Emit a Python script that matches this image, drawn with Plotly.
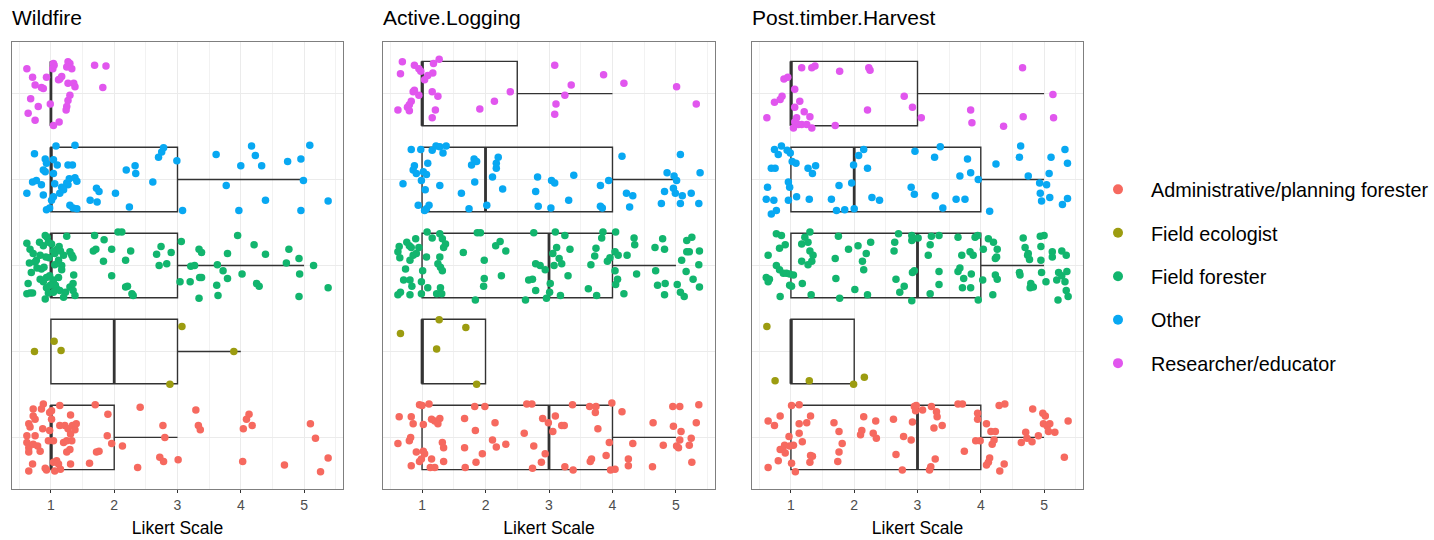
import plotly.graph_objects as go

# ---------------- data ----------------
CATEGORIES = ["Administrative/planning forester", "Field ecologist", "Field forester",
              "Other", "Researcher/educator"]
CAT_POS = [1, 2, 3, 4, 5]
COLORS = ["#F6695F", "#9C9C10", "#12B56E", "#08A8F2", "#E156EE"]
PANELS = ["Wildfire", "Active.Logging", "Post.timber.Harvest"]
X_TICKS = [1, 2, 3, 4, 5]
X_TITLE = "Likert Scale"

# box statistics (order of CATEGORIES)
WF_Q1 = [1, 1, 1, 1, 1]
WF_MED = [1, 2, 1, 1, 1]
WF_Q3 = [2, 3, 3, 3, 1]
WF_HI = [3, 4, 5, 5, 1]

AL_Q1 = [1, 1, 1, 1, 1]
AL_MED = [3, 1, 3, 2, 1]
AL_Q3 = [4, 2, 4, 4, 2.5]
AL_HI = [5, 2, 5, 5, 4]

PH_Q1 = [1, 1, 1, 1, 1]
PH_MED = [3, 1, 3, 2, 1]
PH_Q3 = [4, 2, 4, 4, 3]
PH_HI = [5, 2, 5, 5, 5]

# jittered responses: (x, vertical jitter)
WF_ADMIN = [(0.72,0.33),(0.88,0.39),(0.85,0.33),(0.72,0.25),(0.75,0.21),(0.98,0.29),(1.01,0.31),(1.14,0.37),
            (1.31,0.26),(0.65,0.16),(0.67,0.12),(0.87,0.10),(0.98,0.08),(1.14,0.14),(1.22,0.14),(1.27,0.10),
            (1.34,0.14),(1.38,0.09),(1.31,0.04),(0.62,0.02),(0.75,0.02),(0.96,-0.04),(1.04,-0.04),(1.20,-0.06),
            (1.25,-0.04),(1.33,-0.04),(0.62,-0.06),(0.65,-0.12),(0.79,-0.10),(0.72,-0.08),(0.65,-0.17),(1.25,-0.17),
            (1.30,-0.14),(1.09,-0.27),(1.12,-0.31),(1.04,-0.29),(1.15,-0.37),(1.06,-0.39),(0.93,-0.38),(0.91,-0.36),
            (0.65,-0.39),(0.71,-0.31),(1.31,-0.31),(1.61,-0.30),(1.72,-0.17),(1.76,-0.16),(1.70,0.38),(1.90,0.27),
            (1.89,0.02),(1.96,-0.07),(2.13,-0.10),(2.37,-0.35),(2.41,0.35),(2.77,0.14),(2.80,0.00),(2.72,-0.23),
            (2.78,-0.28),(3.01,-0.26),(3.29,0.32),(3.33,0.14),(3.36,0.09),(4.13,0.27),(4.09,0.21),(4.18,0.14),
            (4.04,0.10),(4.03,-0.28),(4.69,-0.32),(5.10,0.16),(5.18,-0.01),(5.38,-0.24),(5.26,-0.40),
            (1.01,0.21),(1.40,0.16),(0.83,-0.16)]
WF_ECOL = [(0.74,0.00),(1.05,0.12),(1.16,0.01),(3.07,0.29),(2.88,-0.38),(3.89,0.00)]
WF_FIELD = [(0.62,0.26),(0.67,0.19),(0.72,0.14),(0.69,-0.08),(0.64,-0.21),(0.62,-0.33),(0.71,-0.32),(0.75,0.04),
            (0.77,0.06),(0.83,0.12),(0.82,0.27),(0.88,0.23),(0.91,0.35),(0.94,0.33),(0.96,0.27),(1.01,0.25),
            (1.04,0.17),(1.06,0.14),(1.10,0.19),(1.13,0.22),(1.15,0.17),(1.20,0.12),(1.17,0.00),(1.12,0.06),
            (1.06,0.01),(0.97,0.09),(0.92,0.10),(0.85,-0.04),(0.78,-0.03),(0.89,-0.02),(0.83,-0.16),(0.88,-0.19),
            (0.93,-0.14),(0.98,-0.12),(1.04,-0.17),(1.07,-0.23),(1.12,-0.14),(1.09,-0.27),(0.99,-0.23),(0.93,-0.26),
            (0.96,-0.32),(0.91,-0.39),(1.04,-0.31),(1.14,-0.29),(1.20,-0.37),(1.23,-0.31),(1.30,-0.25),(1.35,-0.29),
            (1.38,-0.35),(1.35,-0.21),(1.36,-0.11),(1.33,0.12),(1.35,0.09),(1.25,0.34),(1.30,0.16),(0.67,-0.32),
            (1.17,-0.05),(0.66,0.03),
            (1.69,0.35),(1.84,0.30),(2.06,0.39),(2.12,0.39),(1.71,0.19),(1.67,0.17),(1.96,0.19),(1.83,0.05),
            (2.18,0.06),(2.26,0.17),(1.96,-0.12),(2.18,-0.25),(2.21,-0.24),(2.28,-0.33),(2.30,-0.35),(2.67,0.13),
            (2.74,0.22),(2.90,0.15),(2.71,0.00),(2.83,0.02),(3.06,0.28),(3.04,-0.19),(3.21,-0.01),(3.27,0.00),
            (3.20,-0.19),(3.34,0.19),(3.38,0.15),(3.35,-0.14),(3.38,-0.14),(3.34,-0.38),(3.62,-0.23),(3.64,-0.35),
            (3.63,0.01),(3.72,-0.06),(3.79,0.14),(3.79,-0.15),(3.95,0.35),(4.02,-0.10),(4.21,0.24),(4.39,0.13),
            (4.25,-0.21),(4.29,-0.24),(4.72,0.03),(4.76,0.19),(4.92,0.08),(4.93,-0.10),(4.92,-0.36),(5.15,0.00),
            (5.38,-0.26)]
WF_OTHER = [(1.08,0.39),(1.38,0.40),(0.74,0.30),(0.91,0.24),(0.93,0.19),(1.04,0.23),(1.10,0.17),(1.27,0.17),
            (1.34,0.17),(0.88,0.11),(0.91,0.09),(1.04,0.07),(1.29,0.01),(1.38,0.02),(1.41,-0.02),(1.25,-0.04),
            (1.27,-0.06),(1.17,-0.09),(1.20,-0.12),(1.14,-0.16),(1.06,-0.05),(0.71,-0.03),(0.77,-0.01),(0.85,-0.06),
            (0.62,-0.16),(0.88,-0.18),(1.04,-0.20),(1.01,-0.24),(0.93,-0.35),(0.98,-0.33),(1.30,-0.30),(1.35,-0.33),
            (1.41,-0.34),(1.62,-0.24),(1.73,-0.26),(1.72,-0.10),(1.76,-0.14),(2.02,-0.16),(2.24,-0.32),(2.19,0.11),
            (2.33,0.16),(2.34,0.07),(2.61,-0.03),(2.70,0.26),(2.75,0.32),(2.78,0.37),(2.99,0.22),(3.08,-0.36),
            (3.61,0.29),(3.77,-0.07),(3.97,-0.36),(4.00,0.16),(4.17,0.39),(4.23,0.28),(4.33,0.16),(4.39,-0.24),
            (4.74,0.21),(4.95,-0.36),(4.95,0.24),(4.99,-0.01),(5.09,0.40),(5.38,-0.25)]
WF_RES = [(0.62,0.29),(0.71,0.19),(0.75,0.10),(0.85,0.07),(0.88,0.06),(0.93,0.19),(1.03,0.29),(1.04,0.35),
          (1.05,0.33),(1.12,0.16),(1.14,0.17),(1.17,0.20),(1.27,0.37),(1.30,0.35),(1.25,0.31),(1.33,0.29),
          (1.27,0.12),(1.36,0.12),(1.38,0.08),(1.30,-0.02),(1.27,-0.08),(1.25,-0.15),(1.24,-0.19),(0.68,-0.06),
          (0.80,-0.15),(0.64,-0.23),(0.75,-0.31),(1.04,-0.37),(1.13,-0.33),(0.99,-0.12),(1.69,0.33),(1.87,0.32),
          (1.82,0.07)]

AL_ADMIN = [(0.64,0.24),(0.83,0.24),(0.86,0.16),(0.96,0.38),(1.00,0.37),(1.11,0.39),(1.02,0.15),(1.15,0.21),
            (1.20,0.19),(1.28,0.22),(1.25,0.16),(0.62,-0.07),(0.80,-0.04),(0.82,0.00),(0.91,-0.17),(1.02,-0.16),
            (1.04,-0.19),(0.96,-0.28),(0.99,-0.25),(0.83,-0.33),(1.15,-0.25),(1.13,-0.35),(1.20,-0.35),(1.32,-0.06),
            (1.34,-0.12),(1.34,-0.28),(1.67,0.22),(1.67,-0.12),(1.68,-0.35),(1.83,0.36),(1.99,0.36),(1.84,0.08),
            (1.95,-0.19),(1.85,-0.29),(2.15,0.17),(2.11,-0.03),(2.17,-0.11),(2.32,-0.08),(2.65,0.39),(2.73,0.39),
            (2.61,0.05),(2.76,-0.10),(2.74,-0.36),(2.88,-0.29),(2.94,-0.19),(2.90,0.22),(2.99,0.17),(3.06,0.07),
            (3.10,0.25),(3.20,0.14),(3.24,0.14),(3.25,-0.34),(3.38,-0.38),(3.37,0.38),(3.64,0.36),(3.73,0.29),
            (3.74,0.36),(3.77,0.10),(3.67,-0.25),(3.65,-0.28),(3.90,-0.21),(3.95,-0.06),(3.97,-0.38),(4.04,-0.37),
            (3.99,0.40),(4.15,0.30),(4.25,-0.25),(4.25,-0.33),(4.32,-0.07),(4.64,0.17),(4.63,-0.34),(4.80,-0.09),
            (4.95,0.36),(5.06,0.36),(4.96,0.13),(5.08,0.07),(5.06,-0.03),(5.01,-0.10),(5.04,-0.12),(5.24,-0.01),
            (5.21,-0.09),(5.32,0.17),(5.36,0.38),(5.25,-0.29)]
AL_ECOL = [(0.66,0.21),(1.27,0.37),(1.23,0.03),(1.69,0.28),(1.86,-0.38)]
AL_FIELD = [(0.64,0.22),(0.62,0.16),(0.65,0.09),(0.76,0.27),(0.80,0.23),(0.83,0.21),(0.90,0.31),(0.95,0.21),
            (0.91,0.14),(0.86,0.12),(0.81,0.06),(0.74,-0.04),(0.71,-0.17),(0.81,-0.17),(0.84,-0.24),(0.62,-0.34),
            (0.66,-0.31),(0.81,-0.34),(0.99,-0.19),(1.01,-0.06),(0.99,-0.33),(1.08,0.39),(1.16,0.32),(1.28,0.37),
            (1.32,0.31),(1.37,0.25),(1.34,0.21),(1.07,0.10),(1.28,0.10),(1.25,0.02),(1.29,-0.02),(1.32,-0.06),
            (1.09,-0.26),(1.23,-0.33),(1.29,-0.26),(1.31,-0.33),(1.65,0.15),(1.84,-0.40),(1.87,0.38),(1.92,0.38),
            (1.98,0.06),(1.98,-0.15),(1.97,-0.24),(2.16,0.23),(2.23,0.28),(2.32,0.17),(2.25,-0.12),(2.63,-0.40),
            (2.68,-0.17),(2.74,-0.16),(2.79,-0.29),(2.76,0.38),(2.79,0.02),(2.86,0.00),(2.94,-0.05),(2.96,-0.38),
            (3.01,-0.31),(3.02,-0.21),(3.06,0.14),(3.10,0.39),(3.12,0.21),(3.08,0.00),(3.16,0.08),(3.20,0.02),
            (3.18,-0.35),(3.25,0.35),(3.33,0.19),(3.30,-0.12),(3.62,-0.27),(3.75,-0.35),(3.66,0.01),(3.72,0.11),
            (3.74,0.20),(3.83,0.32),(3.85,0.39),(3.92,0.05),(3.96,0.09),(4.05,0.39),(4.04,0.16),(4.09,0.12),
            (4.04,-0.06),(4.08,-0.16),(4.05,-0.22),(4.18,-0.33),(4.23,0.12),(4.38,-0.10),(4.34,0.32),(4.35,0.24),
            (4.67,0.21),(4.79,0.31),(4.82,0.19),(4.68,-0.06),(4.71,-0.23),(4.83,-0.21),(4.82,-0.34),(5.02,-0.22),
            (5.07,-0.31),(5.13,-0.36),(5.09,0.06),(5.17,0.16),(5.21,0.16),(5.16,-0.07),(5.27,-0.16),(5.36,0.01),
            (5.37,0.17),(5.17,0.29),(5.25,0.33),(5.37,-0.25)]
AL_OTHER = [(0.83,0.35),(0.98,0.35),(1.16,0.34),(1.22,0.39),(1.28,0.38),(1.33,0.31),(1.38,0.39),(0.88,0.16),
            (1.09,0.19),(0.86,0.11),(0.91,0.07),(1.02,0.09),(1.07,0.06),(0.99,-0.01),(0.70,-0.05),(1.28,-0.07),
            (1.05,-0.12),(0.94,-0.30),(1.07,-0.34),(1.11,-0.30),(1.04,-0.36),(1.62,-0.16),(1.74,-0.34),(1.83,-0.03),
            (1.78,0.17),(1.82,0.24),(1.86,0.21),(2.02,-0.30),(2.11,0.03),(2.17,0.13),(2.20,0.26),(2.17,0.19),
            (2.27,-0.11),(2.79,-0.14),(2.82,0.03),(2.83,-0.31),(3.04,-0.01),(3.09,-0.04),(3.03,-0.33),(3.31,-0.24),
            (3.39,0.05),(3.81,-0.07),(3.81,-0.31),(3.84,-0.33),(3.94,-0.01),(4.15,0.27),(4.22,-0.16),(4.32,-0.19),
            (4.27,-0.32),(4.82,-0.14),(4.77,-0.28),(4.86,0.08),(4.97,0.04),(5.01,-0.01),(4.96,-0.10),(4.99,-0.16),
            (5.07,0.29),(5.10,-0.19),(5.07,-0.28),(5.24,-0.16),(5.36,-0.28),(5.38,0.08)]
AL_RES = [(0.69,0.37),(0.66,0.23),(0.88,0.33),(0.95,0.29),(0.98,0.26),(1.18,0.35),(1.27,0.40),(1.17,0.24),
          (1.09,0.21),(1.04,0.16),(0.88,0.04),(0.86,0.02),(0.95,-0.02),(1.16,0.02),(1.25,-0.03),(0.83,-0.09),
          (0.80,-0.13),(0.77,-0.16),(0.62,-0.19),(0.80,-0.20),(1.21,-0.19),(1.16,-0.28),(1.91,-0.18),(2.14,-0.09),
          (2.39,0.02),(3.09,0.33),(3.35,0.10),(3.25,-0.02),(3.11,-0.12),(3.09,-0.24),(3.86,0.22),(4.18,0.12),
          (5.01,0.08),(5.32,-0.12)]

PH_ADMIN = [(1.01,0.37),(1.13,0.38),(0.64,0.19),(0.74,0.14),(0.83,0.25),(1.13,0.16),(1.31,0.25),(1.25,0.17),
            (1.13,0.05),(1.18,-0.05),(0.97,0.01),(1.04,-0.09),(0.98,-0.10),(0.90,-0.09),(0.87,-0.14),(0.83,-0.14),
            (0.91,-0.18),(0.80,-0.27),(0.64,-0.35),(1.01,-0.30),(1.07,-0.40),(1.31,-0.21),(1.34,-0.22),(1.30,-0.29),
            (1.68,0.17),(1.76,0.07),(1.81,-0.07),(1.76,-0.17),(1.74,-0.28),(2.15,0.24),(2.12,0.08),(2.10,0.03),
            (2.34,0.19),(2.30,0.05),(2.35,-0.01),(2.62,0.21),(2.78,0.01),(2.90,-0.03),(2.92,0.18),(2.66,-0.20),
            (2.76,-0.38),(2.95,0.36),(2.97,0.31),(2.98,0.37),(3.08,0.32),(3.22,0.36),(3.30,0.30),(3.31,0.24),
            (3.26,0.11),(3.39,0.14),(3.28,-0.25),(3.21,-0.34),(3.19,-0.38),(3.64,0.39),(3.71,0.39),(3.74,-0.16),
            (3.95,0.28),(3.95,0.21),(3.92,-0.04),(3.99,-0.04),(4.09,0.16),(4.16,0.07),(4.23,0.07),(4.12,-0.29),
            (4.09,-0.32),(4.14,-0.24),(4.18,-0.08),(4.21,-0.03),(4.29,0.37),(4.38,0.39),(4.30,-0.39),(4.37,-0.31),
            (4.64,-0.06),(4.71,0.06),(4.73,-0.01),(4.81,-0.05),(4.82,0.33),(4.91,0.02),(4.98,0.28),(5.02,0.25),
            (4.99,0.16),(5.09,0.16),(5.05,0.13),(5.07,0.07),(5.17,0.06),(5.38,0.19),(5.32,-0.23)]
PH_ECOL = [(0.62,0.29),(0.75,-0.34),(1.29,-0.34),(1.99,-0.38),(2.16,-0.30)]
PH_FIELD = [(0.77,0.37),(0.85,0.35),(0.91,0.24),(0.82,0.20),(0.64,0.12),(0.77,0.00),(0.82,-0.05),(0.88,-0.09),
            (0.93,-0.09),(0.98,-0.10),(1.04,-0.11),(0.61,-0.14),(0.66,-0.16),(0.64,-0.19),(0.83,-0.36),(0.98,-0.23),
            (1.01,-0.24),(1.17,0.05),(1.18,-0.21),(1.22,0.33),(1.30,0.39),(1.17,0.25),(1.27,0.27),(1.30,0.17),
            (1.35,0.12),(1.33,0.05),(1.27,0.01),(1.32,-0.34),(1.75,0.34),(1.70,0.08),(1.71,-0.15),(1.77,-0.38),
            (1.91,0.19),(2.06,0.23),(2.19,0.14),(2.13,0.05),(2.15,-0.05),(2.26,0.27),(2.01,-0.28),(2.21,-0.34),
            (2.64,0.27),(2.63,0.17),(2.70,0.37),(2.66,-0.16),(2.79,-0.24),(2.72,-0.31),(2.91,0.35),(2.91,0.29),
            (2.93,0.31),(3.01,0.32),(2.92,-0.08),(2.95,-0.06),(2.91,-0.41),(3.17,0.12),(3.20,0.24),(3.22,0.34),
            (3.34,0.35),(3.34,-0.07),(3.34,-0.22),(3.20,-0.33),(3.64,0.33),(3.70,0.12),(3.64,-0.07),(3.67,-0.03),
            (3.73,-0.15),(3.71,-0.26),(3.84,-0.26),(3.83,0.16),(3.88,0.12),(3.91,0.33),(3.95,0.35),(3.85,-0.10),
            (3.96,-0.40),(4.03,-0.17),(4.04,0.19),(4.12,0.31),(4.20,0.27),(4.26,0.19),(4.23,0.08),(4.25,0.10),
            (4.19,-0.34),(4.23,-0.11),(4.26,-0.16),(4.61,-0.08),(4.62,-0.11),(4.67,0.32),(4.70,0.21),(4.74,0.12),
            (4.77,0.07),(4.75,0.14),(4.79,-0.21),(4.83,-0.25),(4.78,-0.26),(4.94,0.34),(5.00,0.35),(4.95,0.22),
            (4.95,0.06),(4.96,-0.08),(5.03,-0.19),(5.13,0.16),(5.13,0.10),(5.28,0.17),(5.35,0.12),(5.23,-0.08),
            (5.20,-0.17),(5.28,-0.12),(5.36,-0.07),(5.33,-0.19),(5.35,-0.29),(5.38,-0.36),(5.22,-0.40)]
PH_OTHER = [(0.74,0.35),(0.80,0.29),(0.85,0.39),(0.94,0.34),(0.99,0.31),(1.02,0.21),(1.08,0.19),(0.69,0.13),
            (0.75,0.13),(0.96,-0.03),(0.98,-0.09),(0.63,-0.09),(0.61,-0.23),(0.73,-0.24),(0.69,-0.40),(0.77,-0.36),
            (0.96,-0.24),(1.09,-0.20),(1.29,-0.23),(1.27,0.13),(1.34,0.07),(1.39,0.16),(1.64,-0.23),(1.76,-0.07),
            (1.72,-0.36),(1.85,-0.35),(2.00,-0.34),(1.96,-0.04),(1.99,0.17),(2.07,0.28),(2.15,0.35),(2.21,0.13),
            (2.28,-0.21),(2.40,-0.24),(2.90,-0.09),(2.95,-0.17),(2.96,0.33),(3.27,0.26),(3.36,0.38),(3.28,-0.19),
            (3.40,-0.33),(3.61,-0.23),(3.75,-0.23),(3.67,0.04),(3.79,0.24),(3.84,0.08),(3.96,0.00),(4.14,-0.37),
            (4.24,0.18),(4.61,0.26),(4.63,0.39),(4.75,0.04),(4.93,-0.04),(5.04,-0.06),(4.94,-0.16),(4.96,-0.25),
            (5.08,0.07),(5.09,-0.21),(5.11,0.26),(5.29,-0.29),(5.37,-0.22),(5.33,0.35),(5.37,0.19)]
PH_RES = [(1.17,0.30),(1.33,0.30),(1.38,0.32),(1.77,0.26),(2.23,0.30),(2.25,0.27),(0.89,0.17),(0.95,0.19),
          (1.06,0.05),(0.86,-0.03),(0.83,-0.07),(0.74,-0.10),(1.14,-0.09),(1.06,-0.16),(1.21,-0.21),(1.30,-0.27),
          (0.62,-0.28),(1.09,-0.28),(1.06,-0.33),(1.12,-0.36),(1.17,-0.36),(1.25,-0.36),(1.04,-0.40),(1.33,-0.40),
          (1.70,-0.37),(2.21,-0.19),(2.79,-0.03),(2.92,-0.16),(3.06,-0.28),(3.84,-0.19),(3.86,-0.34),(4.36,-0.38),
          (4.66,0.30),(4.67,-0.27),(5.14,-0.01),(5.15,-0.28)]

PANEL_POINTS = [
    [WF_ADMIN, WF_ECOL, WF_FIELD, WF_OTHER, WF_RES],
    [AL_ADMIN, AL_ECOL, AL_FIELD, AL_OTHER, AL_RES],
    [PH_ADMIN, PH_ECOL, PH_FIELD, PH_OTHER, PH_RES],
]
PANEL_BOX = [
    (WF_Q1, WF_MED, WF_Q3, WF_HI),
    (AL_Q1, AL_MED, AL_Q3, AL_HI),
    (PH_Q1, PH_MED, PH_Q3, PH_HI),
]

# ---------------- layout constants ----------------
W, H = 1434, 540
X_DOMAINS = [(12, 343), (383, 715), (752, 1083)]
Y_TOP, Y_BOT = 42, 489
BOX_WIDTH = 0.75
FONT = "Liberation Sans, Arial, sans-serif"
LINE = "#333333"

fig = go.Figure()

for p in range(3):
    xa = "x" if p == 0 else f"x{p+1}"
    ya = "y" if p == 0 else f"y{p+1}"
    q1, med, q3, hi = PANEL_BOX[p]
    fig.add_trace(go.Box(
        y=CAT_POS, q1=q1, median=med, q3=q3, lowerfence=q1, upperfence=hi,
        orientation="h", width=BOX_WIDTH, whiskerwidth=0,
        fillcolor="rgba(0,0,0,0)", line=dict(color=LINE, width=1.4),
        boxpoints=False, showlegend=False, hoverinfo="skip",
        xaxis=xa, yaxis=ya))
    # thicker median bars
    mx, my = [], []
    for c, m in zip(CAT_POS, med):
        mx += [m, m, None]
        my += [c - BOX_WIDTH / 2, c + BOX_WIDTH / 2, None]
    fig.add_trace(go.Scatter(x=mx, y=my, mode="lines", line=dict(color=LINE, width=2.8),
                             showlegend=False, hoverinfo="skip", xaxis=xa, yaxis=ya))
    for ci, pts in enumerate(PANEL_POINTS[p]):
        fig.add_trace(go.Scatter(
            x=[pt[0] for pt in pts], y=[CAT_POS[ci] + pt[1] for pt in pts],
            mode="markers", marker=dict(size=7.5, color=COLORS[ci], line=dict(width=0)),
            name=CATEGORIES[ci], legendgroup=CATEGORIES[ci], showlegend=False,
            xaxis=xa, yaxis=ya))

# legend entries
for ci, name in enumerate(CATEGORIES):
    fig.add_trace(go.Scatter(x=[None], y=[None], mode="markers",
                             marker=dict(size=10, color=COLORS[ci]),
                             name=name, legendgroup=name, showlegend=True))

layout = dict(
    width=W, height=H, margin=dict(l=0, r=0, t=0, b=0),
    paper_bgcolor="white", plot_bgcolor="white",
    font=dict(family=FONT, color="black"),
    showlegend=True,
    legend=dict(x=1085 / W, y=1 - 170 / H, xanchor="left", yanchor="top",
                font=dict(size=19.8, color="black"), itemwidth=56,
                tracegroupgap=14.7, bgcolor="rgba(0,0,0,0)"),
)
annotations = []
for p in range(3):
    x0, x1 = X_DOMAINS[p]
    sfx = "" if p == 0 else str(p + 1)
    layout[f"xaxis{sfx}"] = dict(
        domain=[x0 / W, x1 / W], range=[0.385, 5.615], anchor=f"y{sfx}",
        tickvals=X_TICKS, ticktext=[str(t) for t in X_TICKS],
        tickfont=dict(size=14, color="#4D4D4D"), ticks="outside", ticklen=3,
        tickcolor=LINE, showgrid=True, gridcolor="#EBEBEB", gridwidth=1.1,
        minor=dict(tickvals=[0.5, 1.5, 2.5, 3.5, 4.5, 5.5], showgrid=True,
                   gridcolor="#F2F2F2", gridwidth=0.6),
        showline=True, linecolor="#7F7F7F", linewidth=1, mirror=True,
        zeroline=False, fixedrange=True,
        title=dict(text=X_TITLE, font=dict(size=17.5, color="black"), standoff=9),
    )
    layout[f"yaxis{sfx}"] = dict(
        domain=[1 - Y_BOT / H, 1 - Y_TOP / H], range=[0.4, 5.6], anchor=f"x{sfx}",
        tickvals=CAT_POS, showticklabels=False, ticks="",
        showgrid=True, gridcolor="#EBEBEB", gridwidth=1.1,
        showline=True, linecolor="#7F7F7F", linewidth=1, mirror=True,
        zeroline=False, fixedrange=True,
    )
    annotations.append(dict(text=PANELS[p], xref="paper", yref="paper",
                            x=(x0 - 2) / W, y=1 - 18 / H, xanchor="left", yanchor="middle",
                            showarrow=False, font=dict(size=21, color="black")))
layout["annotations"] = annotations
fig.update_layout(**layout)

fig.write_html("out.html")
